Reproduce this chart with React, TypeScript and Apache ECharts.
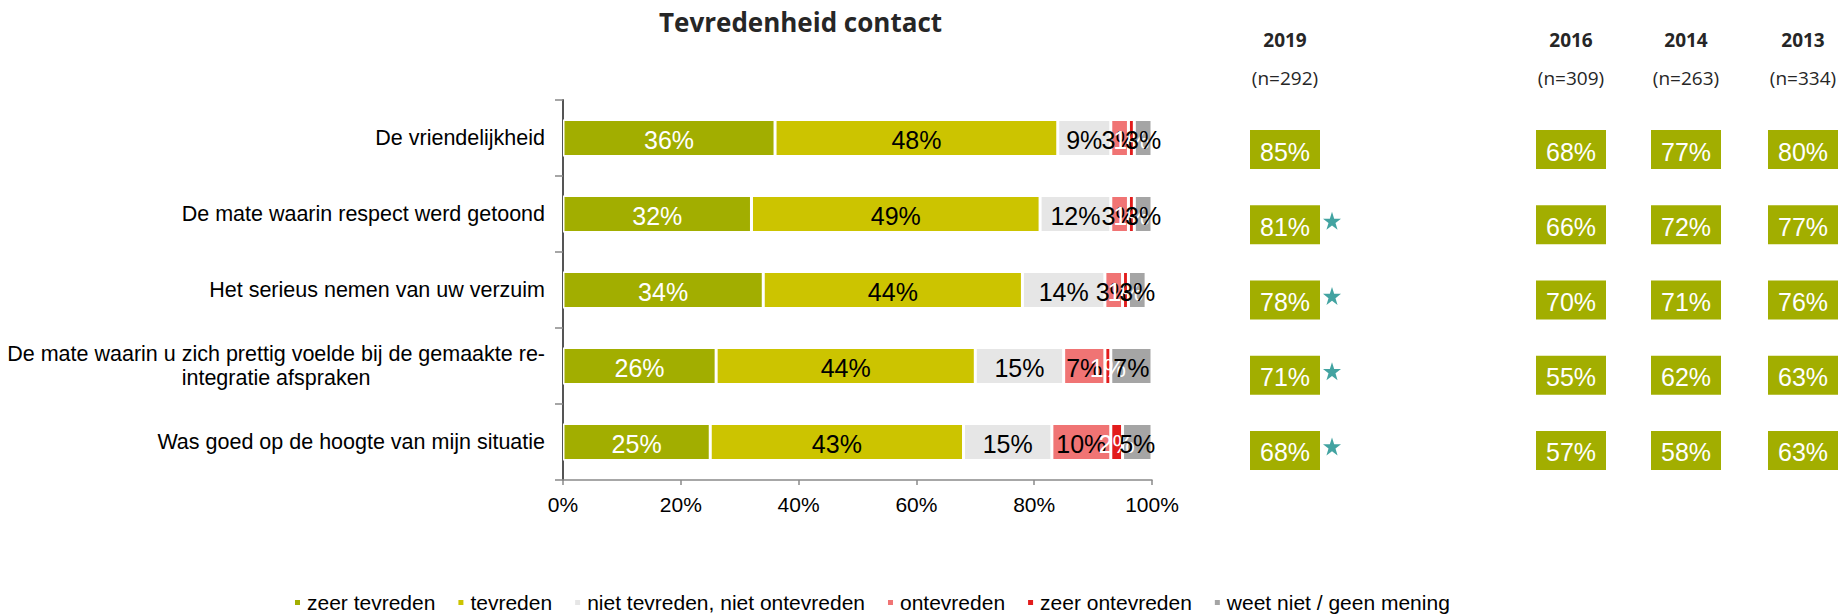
import React, { useEffect, useRef } from 'react';
import * as echarts from 'echarts';

// ---------- data ----------
const categories = [
  'De vriendelijkheid',
  'De mate waarin respect werd getoond',
  'Het serieus nemen van uw verzuim',
  'De mate waarin u zich prettig voelde bij de gemaakte re-\nintegratie afspraken',
  'Was goed op de hoogte van mijn situatie',
];

const segmentNames = [
  'zeer tevreden',
  'tevreden',
  'niet tevreden, niet ontevreden',
  'ontevreden',
  'zeer ontevreden',
  'weet niet / geen mening',
];

const zeerTevreden = [36, 32, 34, 26, 25];
const tevreden = [48, 49, 44, 44, 43];
const neutraal = [9, 12, 14, 15, 15];
const ontevreden = [3, 3, 3, 7, 10];
const zeerOntevreden = [1, 1, 1, 1, 2];
const weetNiet = [3, 3, 3, 7, 5];

const years = ['2019', '2016', '2014', '2013'];
const sampleSizes = [292, 309, 263, 334];
const score2019 = [85, 81, 78, 71, 68];
const score2016 = [68, 66, 70, 55, 57];
const score2014 = [77, 72, 71, 62, 58];
const score2013 = [80, 77, 76, 63, 63];
const significant2019 = [false, true, true, true, true];

const xTicks = [0, 20, 40, 60, 80, 100];

// ---------- styles / layout ----------
const FONT = "'Liberation Sans', Arial, sans-serif";
const HEAD_FONT = "'Open Sans', 'Noto Sans', sans-serif";
const segColors = ['#a2ae00', '#ccc400', '#e6e6e6', '#f07474', '#e21c1c', '#a5a5a5'];
const segLabelColors = ['#ffffff', '#000000', '#000000', '#000000', '#ffffff', '#000000'];
const boxColor = '#a2ae00';
const starColor = '#138c8a';
const boxLefts = [1250, 1536, 1651, 1768];
const STAR = 'path://M50,0 L61.8,35.3 L99,35.3 L69,57.3 L80.3,92.7 L50,70.9 L19.7,92.7 L31,57.3 L1,35.3 L38.2,35.3 Z';

export default function App() {
  const ref = useRef<HTMLDivElement>(null);

  useEffect(() => {
    if (!ref.current) return;
    const chart = echarts.init(ref.current, null, { renderer: 'svg' });

    const segData = [zeerTevreden, tevreden, neutraal, ontevreden, zeerOntevreden, weetNiet];
    const scores = [score2019, score2016, score2014, score2013];

    const grids: any[] = [
      { left: 563, right: 692, top: 100, bottom: 135, containLabel: false, outerBoundsMode: 'none' },
      ...boxLefts.map((l) => ({
        left: l,
        width: 70,
        top: 112,
        height: 376,
        containLabel: false,
        outerBoundsMode: 'none',
      })),
    ];

    const xAxes: any[] = [
      {
        gridIndex: 0,
        type: 'value',
        min: xTicks[0],
        max: xTicks[xTicks.length - 1],
        interval: 20,
        splitLine: { show: false },
        axisLine: { show: true, lineStyle: { color: '#8a8a8a', width: 1.5 } },
        axisTick: { show: true, length: 5, lineStyle: { color: '#8a8a8a', width: 1.5 } },
        axisLabel: {
          formatter: '{value}%',
          fontSize: 21,
          color: '#000',
          fontFamily: FONT,
          margin: 14,
        },
      },
      ...years.map((y, i) => ({
        gridIndex: i + 1,
        type: 'category',
        data: [y],
        position: 'top',
        axisLine: { show: false },
        axisTick: { show: false },
        splitLine: { show: false },
        axisLabel: {
          margin: 17,
          formatter: () => `{y|${y}}\n{n|(n=${sampleSizes[i]})}`,
          rich: {
            y: { fontSize: 19, fontWeight: 'bold', color: '#262626', fontFamily: HEAD_FONT, lineHeight: 40 },
            n: { fontSize: 19, color: '#262626', fontFamily: HEAD_FONT, lineHeight: 35 },
          },
        },
      })),
    ];

    const yAxes: any[] = [
      {
        gridIndex: 0,
        type: 'category',
        inverse: true,
        data: categories,
        axisLine: { show: true, lineStyle: { color: '#555', width: 2 } },
        axisTick: { show: true, length: 8, lineStyle: { color: '#888', width: 1.5 } },
        axisLabel: {
          margin: 18,
          formatter: (v: string) => v.split('\n').map((l) => `{c|${l}}`).join('\n'),
          rich: {
            c: { align: 'center', fontSize: 21.5, lineHeight: 24, color: '#000', fontFamily: FONT },
          },
        },
      },
      ...years.map((_, i) => ({
        gridIndex: i + 1,
        type: 'category',
        inverse: true,
        data: categories,
        show: false,
      })),
    ];

    const barSeries = segmentNames.map((name, s) => ({
      name,
      type: 'bar',
      stack: 'total',
      xAxisIndex: 0,
      yAxisIndex: 0,
      barWidth: 37,
      data: segData[s],
      itemStyle: { color: segColors[s], borderColor: '#ffffff', borderWidth: 1.5 },
      label: {
        show: true,
        position: 'inside',
        formatter: '{c}%',
        fontSize: 25,
        fontFamily: FONT,
        color: segLabelColors[s],
        textBorderWidth: 0,
        offset: [0, 2],
      },
    }));

    const boxSeries = years.map((y, i) => ({
      name: 'box' + y,
      type: 'scatter',
      xAxisIndex: i + 1,
      yAxisIndex: i + 1,
      symbol: 'rect',
      symbolSize: [70, 39],
      silent: true,
      itemStyle: { color: boxColor, opacity: 1 },
      data: scores[i].map((v, k) => [0, k, v]),
      label: {
        show: true,
        position: 'inside',
        formatter: (p: any) => p.value[2] + '%',
        fontSize: 25,
        fontFamily: FONT,
        color: '#ffffff',
        offset: [0, 2],
      },
    }));

    const starSeries = {
      name: 'significant',
      type: 'scatter',
      xAxisIndex: 1,
      yAxisIndex: 1,
      symbol: STAR,
      symbolSize: 18,
      symbolOffset: [47, -4],
      silent: true,
      itemStyle: { color: starColor },
      data: significant2019
        .map((s, k) => (s ? [0, k] : null))
        .filter((d) => d !== null),
    };

    chart.setOption({
      animation: false,
      backgroundColor: '#ffffff',
      title: {
        text: 'Tevredenheid contact',
        left: 659,
        top: 9,
        padding: 0,
        textStyle: { fontSize: 26, fontWeight: 'bold', color: '#262626', fontFamily: HEAD_FONT },
      },
      legend: {
        data: segmentNames,
        left: 293,
        top: 592,
        padding: 0,
        icon: 'rect',
        itemWidth: 7,
        itemHeight: 7,
        itemGap: 21,
        textStyle: { fontSize: 21, color: '#000', fontFamily: FONT, padding: [0, 0, 0, 1] },
      },
      grid: grids,
      xAxis: xAxes,
      yAxis: yAxes,
      series: [...barSeries, ...boxSeries, starSeries],
    });

    return () => chart.dispose();
  }, []);

  return (
    <div
      ref={ref}
      style={{ position: 'fixed', left: 0, top: 0, width: 1844, height: 615, background: '#fff' }}
    />
  );
}
